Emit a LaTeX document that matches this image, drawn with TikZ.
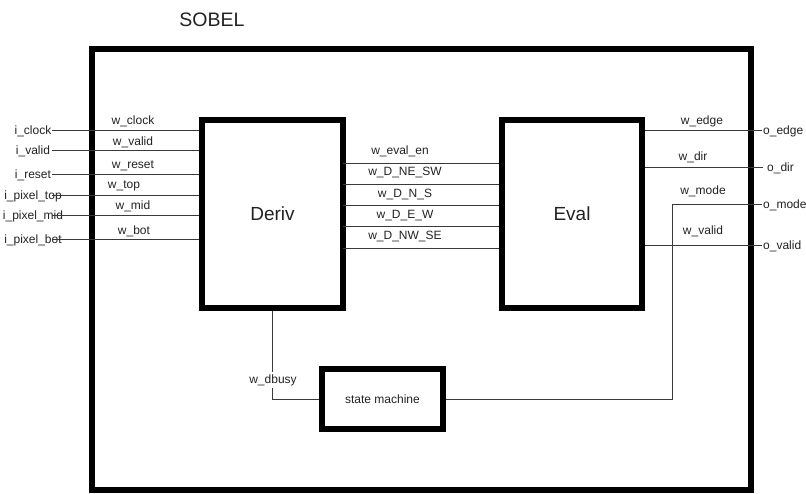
\documentclass[tikz,border=0pt]{standalone}
\usepackage{fontspec}
\setmainfont{Liberation Sans}
\usetikzlibrary{positioning,calc}
\definecolor{ink}{HTML}{222222}
\definecolor{wirec}{HTML}{3A3A3A}
\tikzset{
  block/.style={draw=black,line width=5.5pt,inner sep=0pt,text=ink,
    font=\fontsize{19}{22}\selectfont},
  smblock/.style={block,font=\fontsize{12}{14}\selectfont},
  sig/.style={font=\fontsize{12}{14}\selectfont,text=ink,inner sep=1pt},
  wire/.style={draw=wirec,line width=1pt},
}
\begin{document}
\begin{tikzpicture}[x=1pt,y=-1pt]
  \useasboundingbox (0,0) rectangle (806,494);
  \node[font=\fontsize{19.5}{22}\selectfont,text=ink] (title) at (212,20) {SOBEL};
  \node[block,minimum width=659,minimum height=441] (top) at (421.5,269.5) {};
  \node[block,minimum width=141,minimum height=188] (drv) at (272.5,214) {Deriv};
  \node[block,minimum width=140,minimum height=188] (evl) at (572,214) {Eval};
  \node[smblock,minimum width=121,minimum height=60] (fsm) at (382.5,399) {state machine};
  % inputs into Deriv
  \foreach \n/\y/\pin/\w/\wx/\wy in {clk/131/i\_clock/w\_clock/133/121,
      vld/151/i\_valid/w\_valid/133/142, rst/175/i\_reset/w\_reset/133/166,
      ptop/196/i\_pixel\_top/w\_top/124/186, pmid/216/i\_pixel\_mid/w\_mid/133/206,
      pbot/240/i\_pixel\_bot/w\_bot/134/231}{
    \node[sig] (in\n) at (33,\y) {\pin};
    \coordinate (s\n) at (52,\y);
    \draw[wire] (s\n) -- (s\n -| drv.west);
    \node[sig] (w\n) at (\wx,\wy) {\w};
  }
  % Deriv to Eval
  \foreach \n/\y/\w/\wx/\wy in {en/164/w\_eval\_en/400/151, nesw/185/w\_D\_NE\_SW/405/173,
      ns/206/w\_D\_N\_S/405/195, ew/227/w\_D\_E\_W/405/216, nwse/249/w\_D\_NW\_SE/405/237}{
    \coordinate (d\n) at (343,\y);
    \draw[wire] (d\n) -- (d\n -| evl.west);
    \node[sig] (w\n) at (\wx,\wy) {\w};
  }
  % outputs
  \node[sig,anchor=west] (oedge) at (762,131) {o\_edge};
  \node[sig,anchor=west] (odir) at (766,168) {o\_dir};
  \node[sig,anchor=west] (omode) at (762,205) {o\_mode};
  \node[sig,anchor=west] (ovalid) at (762,246) {o\_valid};
  \coordinate (dirend) at (763,168);
  \coordinate (mk) at (672,205);
  \draw[wire] (oedge.west -| evl.east) -- (oedge.west);
  \draw[wire] (dirend -| evl.east) -- (dirend);
  \draw[wire] (ovalid.west -| evl.east) -- (ovalid.west);
  \draw[wire] (fsm.east) -| (mk) -- (omode.west);
  \node[sig] (wedge) at (702,121) {w\_edge};
  \node[sig] (wdir) at (693,157) {w\_dir};
  \node[sig] (wmode) at (703,191) {w\_mode};
  \node[sig] (wvalid) at (703,231) {w\_valid};
  % busy line
  \draw[wire] (drv.south) |- (fsm.west);
  \node[sig,fill=white,inner sep=2pt] (wbusy) at (273,380) {w\_dbusy};
\end{tikzpicture}
\end{document}
